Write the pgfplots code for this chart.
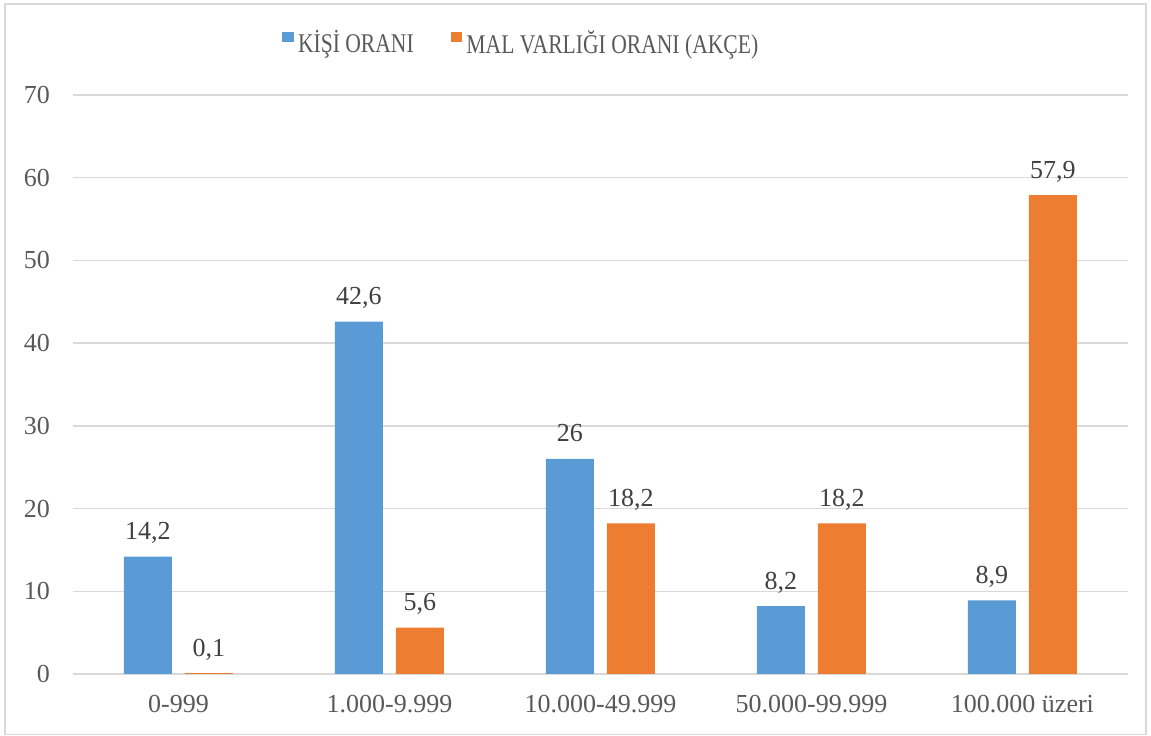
\documentclass[border=0pt]{standalone}
\usepackage{fontspec}
\setmainfont{Liberation Serif}
\newfontfamily\legfont[FakeStretch=0.8]{Liberation Serif}
\usepackage{pgfplots}
\pgfplotsset{compat=1.18}
\usepackage{pgfplotstable}
\definecolor{cblue}{HTML}{5B9BD5}
\definecolor{corange}{HTML}{ED7D31}
\definecolor{gridc}{HTML}{D9D9D9}
\definecolor{tgray}{HTML}{595959}
\definecolor{lgray}{HTML}{404040}
\pgfplotstableread{
x y l
0 14.2 14,2
1 42.6 42,6
2 26 26
3 8.2 8,2
4 8.9 8,9
}\kisi
\pgfplotstableread{
x y l
0 0.1 0,1
1 5.6 5,6
2 18.2 18,2
3 18.2 18,2
4 57.9 57,9
}\mal
\begin{document}
\begin{tikzpicture}
\useasboundingbox (0,0) rectangle (1151bp,736bp);
\draw[gridc, line width=1.3bp] (5bp,1.5bp) rectangle (1146bp,732bp);
\begin{axis}[
 at={(73bp,62bp)}, anchor=south west, scale only axis,
 width=1055bp, height=579bp,
 xmin=-0.5, xmax=4.5, ymin=0, ymax=70,
 ybar=13bp, bar width=48bp,
 axis line style={draw=none},
 ymajorgrids, grid style={gridc, line width=1.3bp},
 major tick length=0pt,
 ytick={0,10,...,70},
 xtick={0,1,2,3,4},
 xticklabels={0-999,1.000-9.999,10.000-49.999,50.000-99.999,100.000 üzeri},
 tick label style={font=\fontsize{26bp}{30bp}\selectfont, text=tgray, inner sep=0pt},
 yticklabel style={anchor=east, xshift=-23bp},
 xticklabel style={anchor=north, yshift=-21bp},
 /pgf/number format/assume math mode=true,
 point meta=explicit symbolic,
 nodes near coords,
 nodes near coords style={font=\fontsize{26bp}{30bp}\selectfont, text=lgray, anchor=base, inner sep=0pt, yshift=17bp},
 legend columns=2,
 legend style={at={(axis description cs:0.424,1.0907)}, anchor=center, draw=none, fill=none, inner sep=0pt,
   font=\legfont\fontsize{27bp}{32bp}\selectfont, text=tgray, nodes={inner sep=0pt}, column sep=4bp,
   /tikz/every even column/.append style={column sep=37bp}},
 legend image code/.code={\fill[#1] (0bp,0bp) rectangle (11.7bp,10bp);},
]
\addplot[fill=cblue, draw=none] table[x=x, y=y, meta=l] {\kisi};
\addplot[fill=corange, draw=none] table[x=x, y=y, meta=l] {\mal};
\legend{KİŞİ ORANI, MAL VARLIĞI ORANI (AKÇE)}
\end{axis}
\end{tikzpicture}
\end{document}
